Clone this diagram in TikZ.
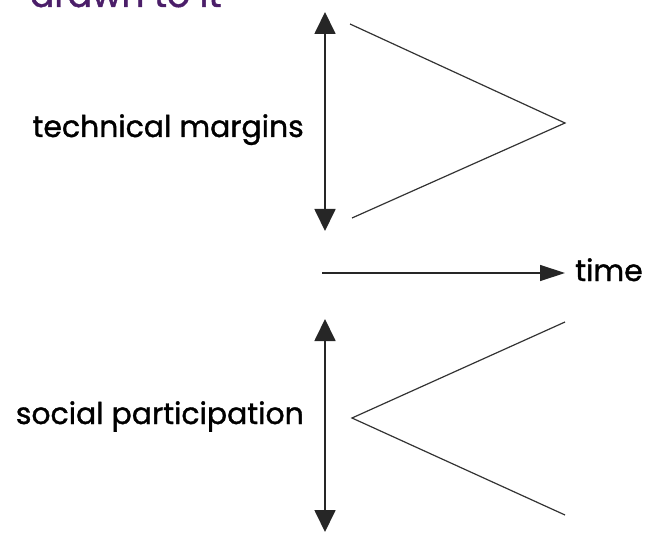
\documentclass[tikz,border=0pt]{standalone}
\usepackage{fontspec}
\setmainfont{Poppins}
\newfontfamily\lblfont{Poppins}[FakeBold=1.2]
\usetikzlibrary{arrows.meta}
\definecolor{titlepurple}{RGB}{75,30,105}
\tikzset{
  lbl/.style={font=\lblfont\fontsize{30}{33}\selectfont, text=black, inner sep=0pt},
  dblarrow/.style={line width=1.8bp, black!85, {Triangle[length=22bp,width=21bp]}-{Triangle[length=22bp,width=21bp]}},
  onearrow/.style={line width=1.3bp, black!85, -{Triangle[length=25bp,width=16bp]}},
  thin/.style={line width=1.2bp, black!80}
}
\begin{document}
\begin{tikzpicture}[x=1bp,y=-1bp]
\useasboundingbox (0,0) rectangle (645,533);
\clip (0,0) rectangle (645,533);
% cut-off title
\node[font=\lblfont\fontsize{36}{40}\selectfont, text=titlepurple, anchor=base west, inner sep=0pt] (title) at (30,7) {drawn to it};
% upper part
\coordinate (ua1) at (325,12);
\coordinate (ua2) at (325,231);
\draw[dblarrow] (ua1) -- (ua2);
\coordinate (ut) at (350,24);
\coordinate (ub) at (352,218);
\coordinate (uv) at (565,123);
\draw[thin] (ut) -- (uv) -- (ub);
\node[lbl, anchor=base east] (tm) at (304,137) {technical margins};
% time
\coordinate (t1) at (322,273);
\coordinate (t2) at (565,273);
\draw[onearrow] (t1) -- (t2);
\node[lbl, anchor=base west] (time) at (575,281) {time};
% lower part
\coordinate (la1) at (325,319);
\coordinate (la2) at (325,532);
\draw[dblarrow] (la1) -- (la2);
\coordinate (lt) at (565,322);
\coordinate (lb) at (565,515);
\coordinate (lv) at (352,418);
\draw[thin] (lt) -- (lv) -- (lb);
\node[lbl, anchor=base east] (sp) at (304,424) {social participation};
\end{tikzpicture}
\end{document}
